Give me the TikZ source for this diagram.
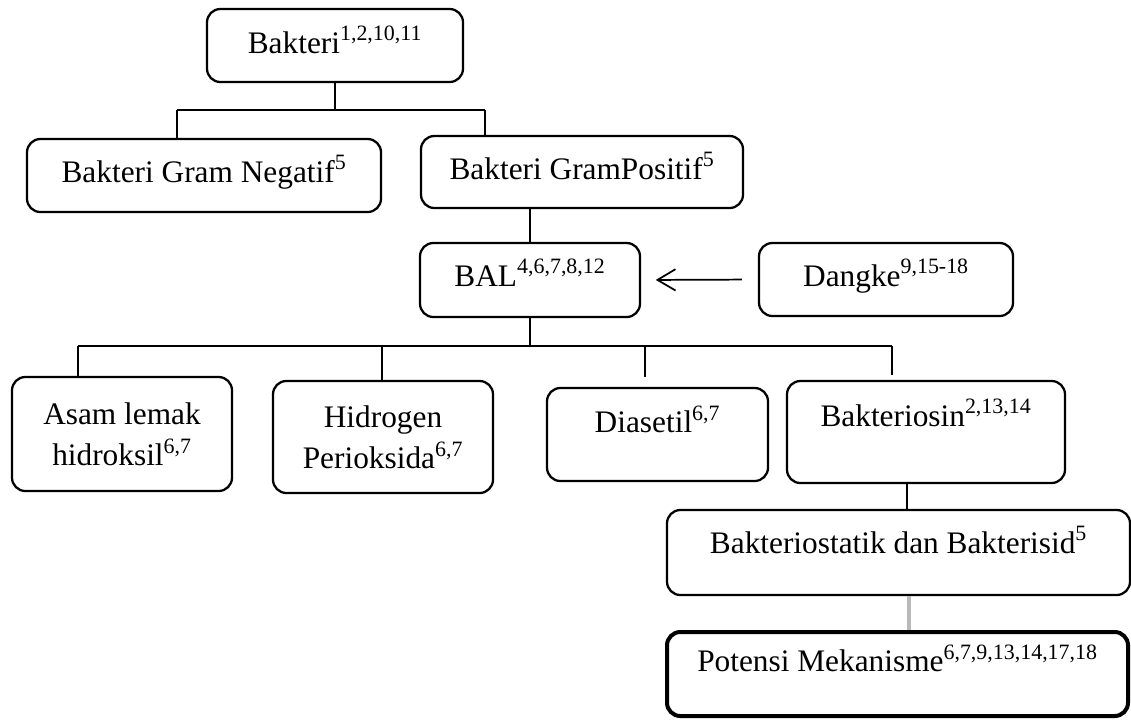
\documentclass[tikz,border=0pt]{standalone}
\usepackage{fontspec}
\setmainfont{Liberation Serif}
\usetikzlibrary{
    arrows.meta,
    positioning
}
\tikzset{
    box/.style={draw, rounded corners=10pt, line width=1.7pt, inner sep=0pt,
        align=center, font=\fontsize{23.5}{31}\selectfont},
    oneline/.style={text height=16pt, text depth=#1},
    link/.style={line width=1.8pt},
}

\begin{document}
\begin{tikzpicture}[x=0.75pt,y=-0.75pt]
    \useasboundingbox (0,0) rectangle (1131,719);
    % boxes
    \node[box, oneline=4.75pt, minimum width=192pt, minimum height=54.75pt] (bakteri) at (335,45.5) {Bakteri\textsuperscript{1,2,10,11}};
    \node[box, oneline=6.25pt, minimum width=265.5pt, minimum height=54.75pt] (negatif) at (204,175.5) {Bakteri Gram Negatif\textsuperscript{5}};
    \node[box, oneline=5.5pt, minimum width=241.5pt, minimum height=54pt] (positif) at (582,172) {Bakteri GramPositif\textsuperscript{5}};
    \node[box, oneline=7pt, minimum width=165pt, minimum height=55.5pt] (bal) at (530,280) {BAL\textsuperscript{4,6,7,8,12}};
    \node[box, oneline=6.25pt, minimum width=190.5pt, minimum height=54.75pt] (dangke) at (886,279.5) {Dangke\textsuperscript{9,15-18}};
    \node[box, minimum width=165pt, minimum height=85.5pt] (asam) at (122,434) {Asam lemak\\hidroksil\textsuperscript{6,7}};
    \node[box, minimum width=165pt, minimum height=84pt] (hidrogen) at (383,437) {Hidrogen\\Perioksida\textsuperscript{6,7}};
    \node[box, oneline=19pt, minimum width=165.75pt, minimum height=69.75pt] (diasetil) at (657.5,434.5) {Diasetil\textsuperscript{6,7}};
    \node[box, oneline=25pt, minimum width=208.5pt, minimum height=76.5pt] (bakteriosin) at (926,432) {Bakteriosin\textsuperscript{2,13,14}};
    \node[box, oneline=15.25pt, minimum width=347.25pt, minimum height=63.75pt] (statik) at (898.5,552.5) {Bakteriostatik dan Bakterisid\textsuperscript{5}};
    \node[box, oneline=19.5pt, line width=3pt, minimum width=345.75pt, minimum height=63pt] (potensi) at (897.5,674) {Potensi Mekanisme\textsuperscript{6,7,9,13,14,17,18}};
    % brackets
    \coordinate (t1) at (177,110);
    \coordinate (t2) at (485,110);
    \draw[link] (bakteri.south) -- (bakteri.south |- t1);
    \draw[link] (t1) -- (t2);
    \draw[link] (t1) -- (t1 |- negatif.north);
    \draw[link] (t2) -- (t2 |- positif.north);
    \draw[link] (bal.north) -- (bal.north |- positif.south);
    \draw[-{Straight Barb[length=13.5pt,width=16pt]}, line width=1.3pt, shorten <=12pt, shorten >=11pt] (dangke.west) -- (bal.east);
    \coordinate (m1) at (78,346);
    \coordinate (m2) at (382,346);
    \coordinate (m3) at (645,346);
    \coordinate (m4) at (892,346);
    \draw[link] (bal.south) -- (bal.south |- m1);
    \draw[link] (m1) -- (m4);
    \draw[link] (m1) -- (m1 |- asam.north);
    \draw[link] (m2) -- (m2 |- hidrogen.north);
    \draw[link, shorten >=7.5pt] (m3) -- (m3 |- diasetil.north);
    \draw[link, shorten >=4pt] (m4) -- (m4 |- bakteriosin.north);
    \coordinate (s1) at (907,500);
    \coordinate (s2) at (909,610);
    \draw[link] (s1 |- bakteriosin.south) -- (s1 |- statik.north);
    \draw[gray!55, line width=3.5pt] (s2 |- statik.south) -- (s2 |- potensi.north);
\end{tikzpicture}
\end{document}
